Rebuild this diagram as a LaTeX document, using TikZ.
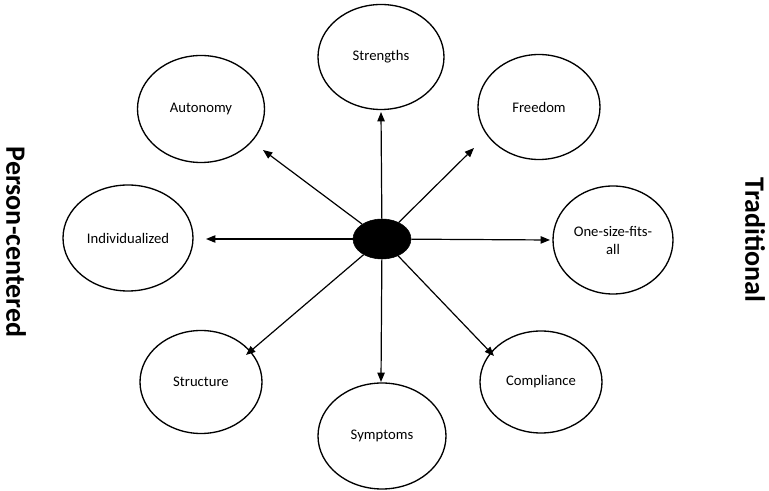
\documentclass[tikz,border=0pt]{standalone}
\usepackage{fontspec}
\setmainfont{Carlito}
\usetikzlibrary{arrows.meta,shapes.geometric}
\begin{document}
\begin{tikzpicture}[x=0.75pt,y=-0.75pt,
  oval/.style={draw,ellipse,line width=1pt,inner sep=0pt,font=\fontsize{11}{13.5}\selectfont,align=center},
  arr/.style={-{Triangle[length=7pt,width=5.5pt]},line width=0.9pt},
  side/.style={font=\fontsize{21}{24}\selectfont\bfseries,rotate=-90}]
\useasboundingbox (0,0) rectangle (769,491);
\node[oval,minimum width=126*0.75pt,minimum height=105*0.75pt] (str) at (381,57) {Strengths};
\node[oval,minimum width=122*0.75pt,minimum height=105*0.75pt] (fre) at (539,107) {Freedom};
\node[oval,minimum width=120*0.75pt,minimum height=108*0.75pt] (one) at (613,240) {One-size-fits-\\all};
\node[oval,minimum width=122*0.75pt,minimum height=102*0.75pt] (com) at (541,382) {Compliance};
\node[oval,minimum width=128*0.75pt,minimum height=106*0.75pt] (sym) at (382,436) {Symptoms};
\node[oval,minimum width=122*0.75pt,minimum height=103*0.75pt] (stu) at (201,382) {Structure};
\node[oval,minimum width=130*0.75pt,minimum height=106*0.75pt] (ind) at (128,238) {Individualized};
\node[oval,minimum width=127*0.75pt,minimum height=107*0.75pt] (aut) at (201,109) {Autonomy};
\node[draw,fill=black,ellipse,inner sep=0pt,minimum width=58*0.75pt,minimum height=40*0.75pt] (c) at (382,239) {};
\coordinate (eN) at (381,112);
\coordinate (eNE) at (474,148);
\coordinate (eE) at (550,240);
\coordinate (eSE) at (494,356);
\coordinate (eS) at (381,382);
\coordinate (eSW) at (246,355);
\coordinate (eW) at (206,239);
\coordinate (eNW) at (263,150);
\foreach \e in {eN,eNE,eE,eSE,eS,eSW,eW,eNW} \draw[arr] (c) -- (\e);
\node[side] (pc) at (16,242) {Person-centered};
\node[side] (tr) at (755,240) {Traditional};
\end{tikzpicture}
\end{document}
